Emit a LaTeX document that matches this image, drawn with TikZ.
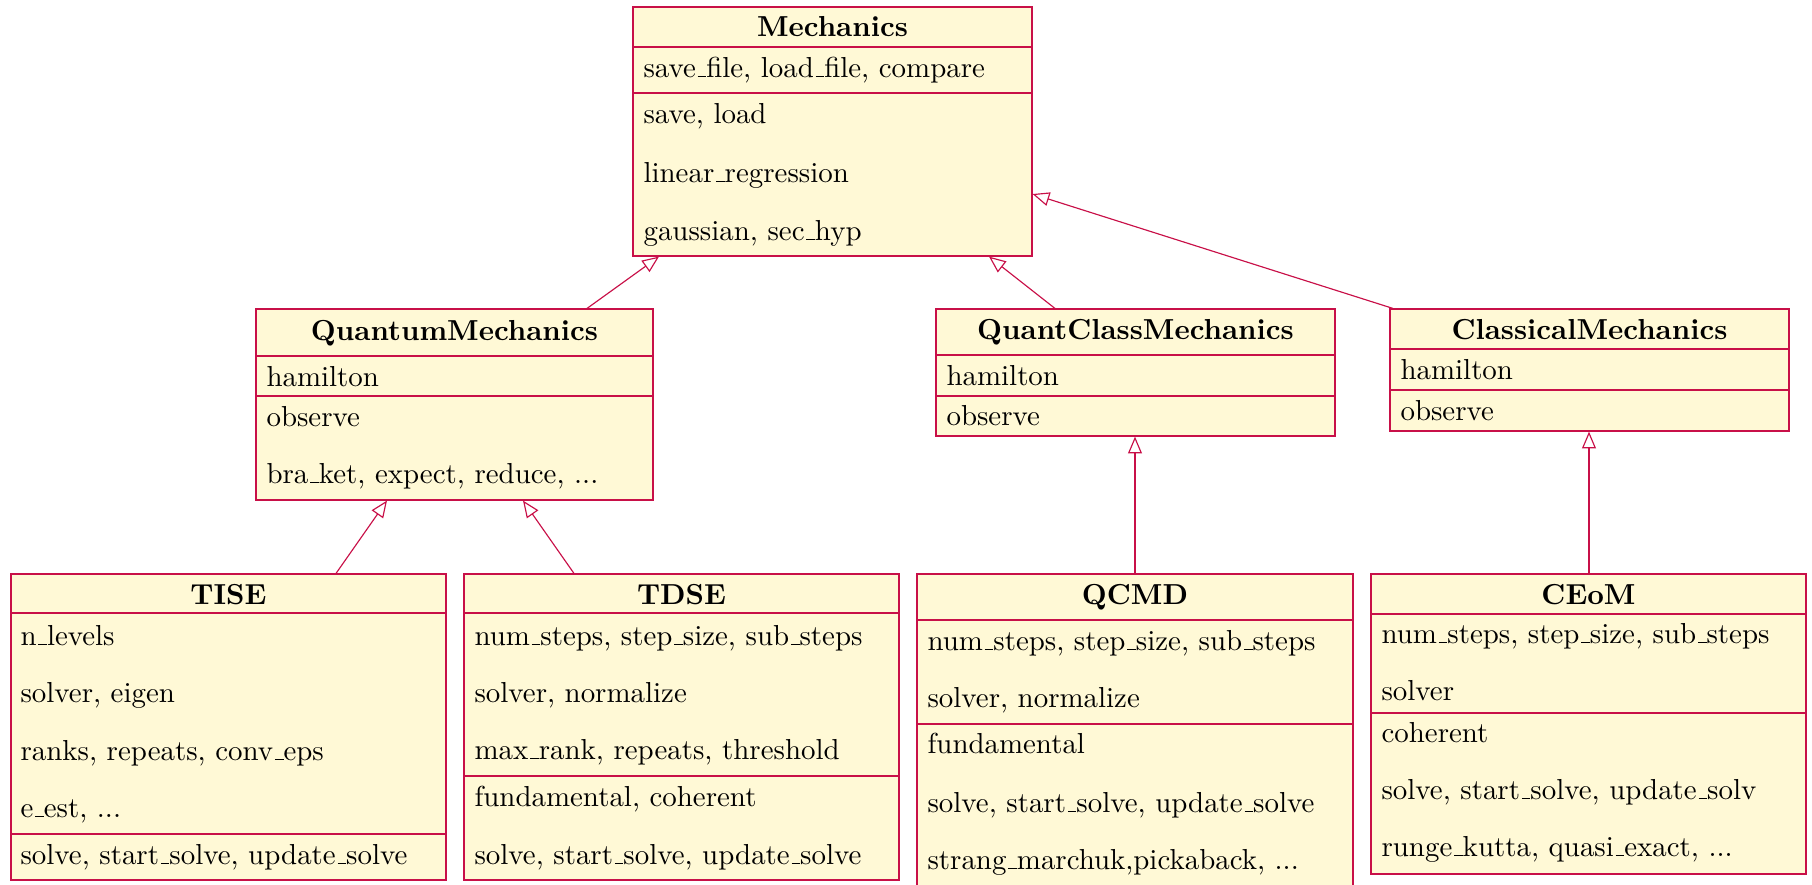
\documentclass[tikz,border=0pt]{standalone}
\usetikzlibrary{arrows.meta,fit}
\definecolor{umldraw}{RGB}{200,16,72}
\definecolor{umlfill}{RGB}{255,249,214}
\newcommand{\us}{\leavevmode\kern.06em\vbox{\hrule width .3em}}
\tikzset{
 classbox/.style={draw=umldraw, fill=umlfill, line width=0.4pt, inner sep=0pt},
 sepline/.style={draw=umldraw, line width=0.4pt},
 ttl/.style={font=\bfseries, inner sep=0pt, anchor=base},
 txt/.style={inner sep=0pt, anchor=base west},
 inh/.style={draw=umldraw, line width=0.4pt, -{Triangle[open,length=5.8pt,width=4.8pt]}},
}
\begin{document}
\begin{tikzpicture}[x=0.346pt, y=-0.346pt]
\useasboundingbox (0,0) rectangle (1812,884);

% Mechanics
\node[classbox, fit={(633,7) (1032,256)}] (mech) {};
\draw[sepline] (mech.west |- 0,47) -- (mech.east |- 0,47);
\draw[sepline] (mech.west |- 0,93) -- (mech.east |- 0,93);
\node[ttl] (mechT) at (832.5,36) {Mechanics};
\node[txt] (mechA) at (643,77) {save\us file, load\us file, compare};
\node[txt] (mechO1) at (643,123) {save, load};
\node[txt] (mechO2) at (643,182) {linear\us regression};
\node[txt] (mechO3) at (643,240) {gaussian, sec\us hyp};

% QuantumMechanics
\node[classbox, fit={(256,309) (653,500)}] (qm) {};
\draw[sepline] (qm.west |- 0,356) -- (qm.east |- 0,356);
\draw[sepline] (qm.west |- 0,396) -- (qm.east |- 0,396);
\node[ttl] (qmT) at (454.5,340) {QuantumMechanics};
\node[txt] (qmA) at (266,386) {hamilton};
\node[txt] (qmO1) at (266,426) {observe};
\node[txt] (qmO2) at (266,483) {bra\us ket, expect, reduce, ...};

% QuantClassMechanics
\node[classbox, fit={(936,309) (1335,436)}] (qcm) {};
\draw[sepline] (qcm.west |- 0,355) -- (qcm.east |- 0,355);
\draw[sepline] (qcm.west |- 0,396) -- (qcm.east |- 0,396);
\node[ttl] (qcmT) at (1135.5,339) {QuantClassMechanics};
\node[txt] (qcmA) at (946,385) {hamilton};
\node[txt] (qcmO) at (946,425) {observe};

% ClassicalMechanics
\node[classbox, fit={(1390,309) (1789,431)}] (cm) {};
\draw[sepline] (cm.west |- 0,349) -- (cm.east |- 0,349);
\draw[sepline] (cm.west |- 0,390) -- (cm.east |- 0,390);
\node[ttl] (cmT) at (1589.5,339) {ClassicalMechanics};
\node[txt] (cmA) at (1400,379) {hamilton};
\node[txt] (cmO) at (1400,420) {observe};

% TISE
\node[classbox, fit={(11,574) (446,880)}] (tise) {};
\draw[sepline] (tise.west |- 0,613) -- (tise.east |- 0,613);
\draw[sepline] (tise.west |- 0,834) -- (tise.east |- 0,834);
\node[ttl] (tiseT) at (228.5,604) {TISE};
\node[txt] (tiseA1) at (20,645) {n\us levels};
\node[txt] (tiseA2) at (20,702) {solver, eigen};
\node[txt] (tiseA3) at (20,760) {ranks, repeats, conv\us eps};
\node[txt] (tiseA4) at (20,817) {e\us est, ...};
\node[txt] (tiseO1) at (20,864) {solve, start\us solve, update\us solve};

% TDSE
\node[classbox, fit={(464,574) (899,880)}] (tdse) {};
\draw[sepline] (tdse.west |- 0,613) -- (tdse.east |- 0,613);
\draw[sepline] (tdse.west |- 0,776) -- (tdse.east |- 0,776);
\node[ttl] (tdseT) at (681.5,604) {TDSE};
\node[txt] (tdseA1) at (474,645) {num\us steps, step\us size, sub\us steps};
\node[txt] (tdseA2) at (474,702) {solver, normalize};
\node[txt] (tdseA3) at (474,759) {max\us rank, repeats, threshold};
\node[txt] (tdseO1) at (474,806) {fundamental, coherent};
\node[txt] (tdseO2) at (474,864) {solve, start\us solve, update\us solve};

% QCMD
\node[classbox, fit={(917,574) (1353,892)}] (qcmd) {};
\draw[sepline] (qcmd.west |- 0,620) -- (qcmd.east |- 0,620);
\draw[sepline] (qcmd.west |- 0,724) -- (qcmd.east |- 0,724);
\node[ttl] (qcmdT) at (1135,604) {QCMD};
\node[txt] (qcmdA1) at (927,650) {num\us steps, step\us size, sub\us steps};
\node[txt] (qcmdA2) at (927,707) {solver, normalize};
\node[txt] (qcmdO1) at (927,753) {fundamental};
\node[txt] (qcmdO2) at (927,812) {solve, start\us solve, update\us solve};
\node[txt] (qcmdO3) at (927,869) {strang\us marchuk,pickaback, ...};

% CEoM
\node[classbox, fit={(1371,574) (1806,874)}] (ceom) {};
\draw[sepline] (ceom.west |- 0,614) -- (ceom.east |- 0,614);
\draw[sepline] (ceom.west |- 0,713) -- (ceom.east |- 0,713);
\node[ttl] (ceomT) at (1588.5,604) {CEoM};
\node[txt] (ceomA1) at (1381,643) {num\us steps, step\us size, sub\us steps};
\node[txt] (ceomA2) at (1381,700) {solver};
\node[txt] (ceomO1) at (1381,742) {coherent};
\node[txt] (ceomO2) at (1381,799) {solve, start\us solve, update\us solv};
\node[txt] (ceomO3) at (1381,856) {runge\us kutta, quasi\us exact, ...};

% Inheritance connectors
\draw[inh] (qm.north -| 587,0) -- (mech.south -| 659,0);
\draw[inh] (qcm.north -| 1055,0) -- (mech.south -| 989,0);
\draw[inh] (cm.north -| 1393,0) -- (mech.east |- 0,194);
\draw[inh] (tise.north -| 336,0) -- (qm.south -| 387,0);
\draw[inh] (tdse.north -| 574,0) -- (qm.south -| 523,0);
\draw[inh] (qcmd.north) -- (qcm.south -| qcmd.north);
\draw[inh] (ceom.north -| 1589,0) -- (cm.south -| 1589,0);
\end{tikzpicture}
\end{document}
